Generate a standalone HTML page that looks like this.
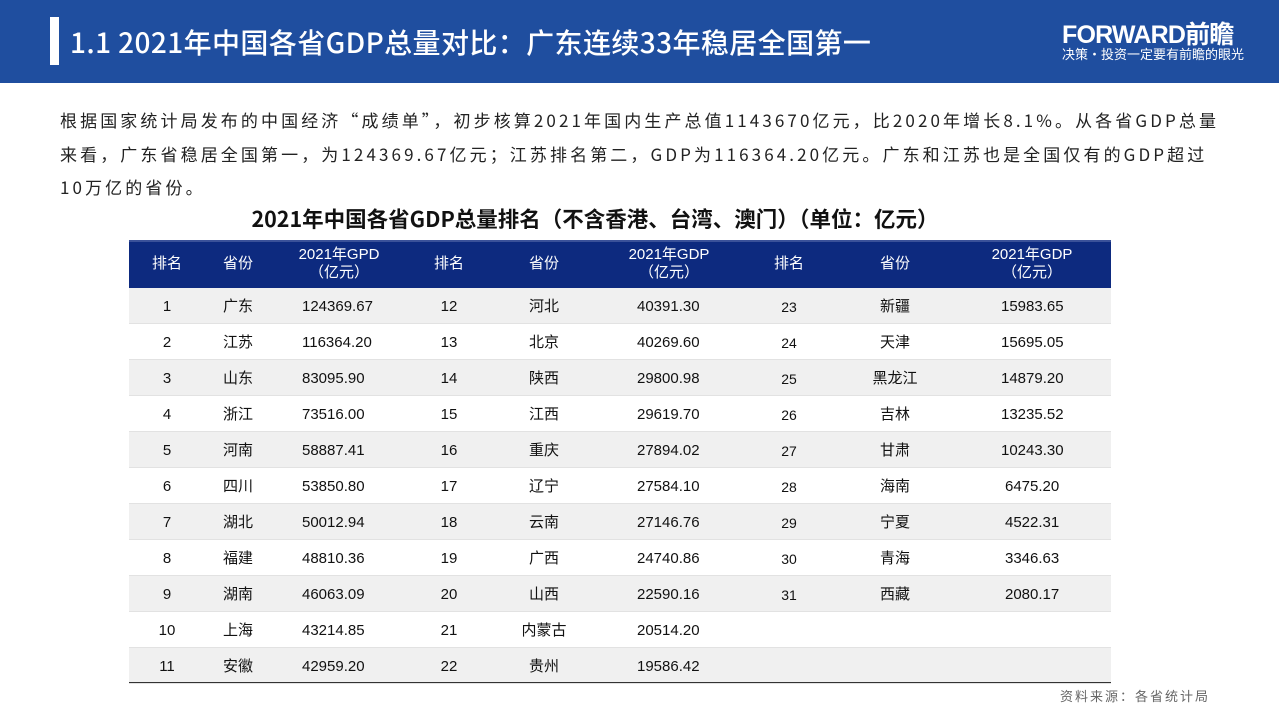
<!DOCTYPE html>
<html><head><meta charset="utf-8">
<style>
*{margin:0;padding:0;box-sizing:border-box}
body{width:1279px;height:719px;overflow:hidden;background:#fff;font-family:"Liberation Sans","Noto Sans CJK SC",sans-serif;position:relative}
.hdr{position:absolute;left:0;top:0;width:1279px;height:83px;background:#1f4e9f}
.bar{position:absolute;left:50px;top:17px;width:9px;height:48px;background:#fff}
.title{position:absolute;left:70px;top:22px;color:#fff;font-size:28px;font-family:"Noto Sans CJK SC",sans-serif;letter-spacing:0.4px;line-height:40px;font-weight:500}
.logo{position:absolute;left:1062px;top:15px;color:#fff;font-size:25px;font-weight:bold;letter-spacing:-0.8px}
.slogan{position:absolute;left:1062px;top:44px;color:#fff;font-size:13px;font-family:"Noto Sans CJK SC",sans-serif}
.para{position:absolute;left:60px;top:103px;width:1200px;font-size:17px;line-height:33.5px;color:#222;font-family:"Noto Sans CJK SC",sans-serif;letter-spacing:3.1px;white-space:nowrap}
.ttl{position:absolute;left:250px;width:690px;top:203px;text-align:center;font-size:21.5px;font-weight:bold;color:#111;font-family:"Noto Sans CJK SC",sans-serif;white-space:nowrap}
.th{position:absolute;left:129px;top:240px;width:982px;height:48px;background:#0d2a7f;border-top:2px solid #3a5199}
.c{position:absolute;font-size:15px;color:#111;white-space:nowrap;line-height:20px;font-family:"Liberation Sans","Noto Sans CJK SC",sans-serif}
.h{color:#fff;font-size:15px;text-align:center;line-height:18px}
.row{position:absolute;left:129px;width:982px;height:36px}
.src{position:absolute;left:1060px;top:686px;font-size:13px;color:#666;letter-spacing:2px;font-family:"Noto Sans CJK SC",sans-serif}
</style></head><body>
<div class="hdr"></div>
<div class="bar"></div>
<div class="title">1.1 2021年中国各省GDP总量对比：广东连续33年稳居全国第一</div>
<div class="logo">FORWARD前瞻</div>
<div class="slogan">决策·投资一定要有前瞻的眼光</div>
<div class="para">根据国家统计局发布的中国经济“成绩单”，初步核算2021年国内生产总值1143670亿元，比2020年增长8.1%。从各省GDP总量<br>来看，广东省稳居全国第一，为124369.67亿元；江苏排名第二，GDP为116364.20亿元。广东和江苏也是全国仅有的GDP超过<br>10万亿的省份。</div>
<div class="ttl">2021年中国各省GDP总量排名（不含香港、台湾、澳门）（单位：亿元）</div>
<div class="th"></div>
<div id="tbl"></div>
<div style="position:absolute;left:129px;top:682px;width:982px;height:1px;background:#333"></div>
<div class="src">资料来源：各省统计局</div>
<script>
const ranks=[1,2,3,4,5,6,7,8,9,10,11,12,13,14,15,16,17,18,19,20,21,22,23,24,25,26,27,28,29,30,31];
const provinces=["广东","江苏","山东","浙江","河南","四川","湖北","福建","湖南","上海","安徽","河北","北京","陕西","江西","重庆","辽宁","云南","广西","山西","内蒙古","贵州","新疆","天津","黑龙江","吉林","甘肃","海南","宁夏","青海","西藏"];
const gdp=["124369.67","116364.20","83095.90","73516.00","58887.41","53850.80","50012.94","48810.36","46063.09","43214.85","42959.20","40391.30","40269.60","29800.98","29619.70","27894.02","27584.10","27146.76","24740.86","22590.16","20514.20","19586.42","15983.65","15695.05","14879.20","13235.52","10243.30","6475.20","4522.31","3346.63","2080.17"];
const headers=["排名","省份","2021年GPD<br>（亿元）","排名","省份","2021年GDP<br>（亿元）","排名","省份","2021年GDP<br>（亿元）"];
const colC=[167,238,339,449,544,669,789,895,1032];
const numL=[302,637,1001];
const tbl=document.getElementById('tbl');
headers.forEach((t,i)=>{
  const d=document.createElement('div');
  d.className='c h';
  
  
  d.innerHTML=t;
  d.style.left=(colC[i]-60)+'px';d.style.width='120px';
  d.style.top=(t.includes('<br>')?246:255)+'px';
  tbl.appendChild(d);
});
for(let r=0;r<11;r++){
  const row=document.createElement('div');
  row.className='row';
  
  
  row.style.top=(288+r*36)+'px';
  row.style.background=r%2===0?'#f0f0f0':'#fff';
  row.style.borderBottom='1px solid #e2e2e2';
  tbl.appendChild(row);
}
ranks.forEach((rk,k)=>{
  const g=Math.floor(k/11), r=k%11;
  const y=288+r*36+9;
  const a=document.createElement('div');
  a.className='c';
  
  
  a.textContent=rk;a.style.left=(colC[g*3]-30)+'px';a.style.width='60px';a.style.textAlign='center';a.style.top=y+'px';
  if(g===2)a.style.fontSize='14px';
  tbl.appendChild(a);
  const p=document.createElement('div');
  p.className='c';
  
  
  p.textContent=provinces[k];p.style.left=(colC[g*3+1]-40)+'px';p.style.width='80px';p.style.textAlign='center';p.style.top=y+'px';
  tbl.appendChild(p);
  const v=document.createElement('div');
  v.className='c';
  
  
  v.textContent=gdp[k];v.style.left=numL[g]+'px';v.style.top=y+'px';
  if(gdp[k].length<8)v.style.left=(numL[g]+4)+'px';
  tbl.appendChild(v);
});
</script>
</body></html>
